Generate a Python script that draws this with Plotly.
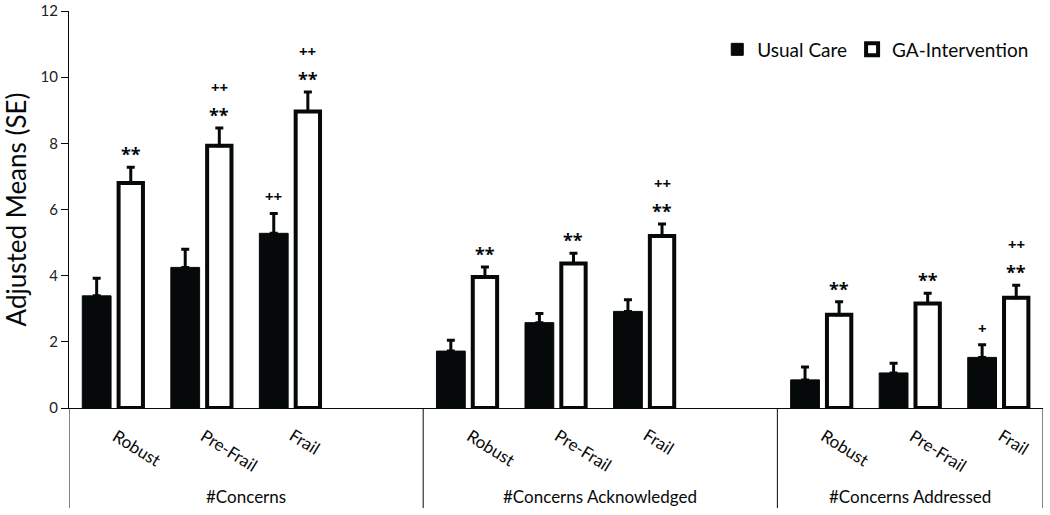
import plotly.graph_objects as go

# ---- data ----
groups = ["#Concerns", "#Concerns Acknowledged", "#Concerns Addressed"]
levels = ["Robust", "Pre-Frail", "Frail"]

uc_means = [3.39, 4.25, 5.28, 1.72, 2.58, 2.92, 0.85, 1.06, 1.53]
uc_se    = [0.53, 0.55, 0.60, 0.33, 0.28, 0.35, 0.39, 0.29, 0.38]
ga_means = [6.80, 7.93, 8.96, 3.96, 4.37, 5.20, 2.82, 3.16, 3.33]
ga_se    = [0.48, 0.53, 0.59, 0.30, 0.31, 0.36, 0.39, 0.31, 0.38]

uc_marks      = ["", "", "++", "", "", "", "", "", "+"]
ga_star_marks = ["**"] * 9
ga_plus_marks = ["", "++", "++", "", "", "++", "", "", "++"]

y_ticks = [0, 2, 4, 6, 8, 10, 12]

FONT = "Lato"
MARK_FONT = "Open Sans"
BLACK = "#060909"

# positions: each group has 3 categories followed by an empty slot
pos = [g * 4 + i for g in range(len(groups)) for i in range(len(levels))]
cat_labels = [lv for g in groups for lv in levels]

fig = go.Figure()
fig.add_trace(go.Bar(
    name="Usual Care", x=pos, y=uc_means,
    offset=-0.35, width=0.325,
    marker=dict(color=BLACK, line=dict(color=BLACK, width=1)),
    error_y=dict(type="data", array=uc_se, arrayminus=[0] * 9, symmetric=False,
                 color=BLACK, thickness=3, width=4),
))
fig.add_trace(go.Bar(
    name="GA-Intervention", x=pos, y=ga_means,
    offset=0.06, width=0.275,
    marker=dict(color="white", line=dict(color=BLACK, width=4)),
    error_y=dict(type="data", array=ga_se, arrayminus=[0] * 9, symmetric=False,
                 color=BLACK, thickness=3, width=4),
))

ann = []
uc_center = -0.35 + 0.325 / 2
ga_center = 0.06 + 0.275 / 2
for k, p in enumerate(pos):
    ytop_ga = ga_means[k] + ga_se[k]
    ytop_uc = uc_means[k] + uc_se[k]
    if ga_star_marks[k]:
        ann.append(dict(x=p + ga_center, y=ytop_ga, xref="x", yref="y", text="<b>" + ga_star_marks[k] + "</b>",
                        showarrow=False, yshift=13, xanchor="center", yanchor="middle",
                        font=dict(family=MARK_FONT, size=18, color=BLACK)))
    if ga_plus_marks[k]:
        ann.append(dict(x=p + ga_center, y=ytop_ga, xref="x", yref="y", text="<b>" + ga_plus_marks[k] + "</b>",
                        showarrow=False, yshift=41, xanchor="center", yanchor="middle",
                        font=dict(family=MARK_FONT, size=15, color=BLACK)))
    if uc_marks[k]:
        ann.append(dict(x=p + uc_center, y=ytop_uc, xref="x", yref="y", text="<b>" + uc_marks[k] + "</b>",
                        showarrow=False, yshift=17, xanchor="center", yanchor="middle",
                        font=dict(family=MARK_FONT, size=15, color=BLACK)))
    # category label, rotated
    ann.append(dict(x=p - 0.08, y=-0.035, xref="x", yref="paper", text=cat_labels[k],
                    showarrow=False, textangle=32, xanchor="left", yanchor="top",
                    font=dict(family=FONT, size=17, color=BLACK)))

# group labels and separators
bounds = [-0.5, 3.5, 7.5, 10.5]
for g, name in enumerate(groups):
    ann.append(dict(x=(bounds[g] + bounds[g + 1]) / 2, y=-0.223, xref="x", yref="paper",
                    text=name, showarrow=False, xanchor="center", yanchor="middle",
                    font=dict(family=FONT, size=17, color=BLACK)))

shapes = [dict(type="line", xref="x", yref="paper", x0=b, x1=b, y0=0, y1=-0.252,
               line=dict(color=BLACK, width=1)) for b in bounds]

fig.update_layout(
    width=1050, height=515,
    margin=dict(l=68.5, r=6.5, t=11, b=106.7, autoexpand=False),
    paper_bgcolor="white", plot_bgcolor="white",
    barmode="overlay",
    showlegend=True,
    legend=dict(orientation="h", x=0.99, xanchor="right", y=0.903, yanchor="middle",
                font=dict(family=FONT, size=19, color=BLACK), bgcolor="rgba(0,0,0,0)",
                itemwidth=30, traceorder="normal"),
    xaxis=dict(range=[-0.5, 10.5], showticklabels=False, ticks="", showgrid=False,
               zeroline=False, showline=True, linecolor=BLACK, linewidth=1, fixedrange=True,
               automargin=False),
    yaxis=dict(range=[0, 12], tickvals=y_ticks, ticks="outside", ticklen=7, tickcolor=BLACK,
               showgrid=False, zeroline=False, showline=True, linecolor=BLACK, linewidth=1,
               automargin=False,
               tickfont=dict(family=FONT, size=15, color="#222"),
               title=dict(text="Adjusted Means (SE)", standoff=8,
                          font=dict(family=FONT, size=26, color=BLACK))),
    annotations=ann,
    shapes=shapes,
)

fig.write_html("out.html", config={"displayModeBar": False},
               post_script="document.body.style.margin='0';document.body.style.overflow='hidden';")
